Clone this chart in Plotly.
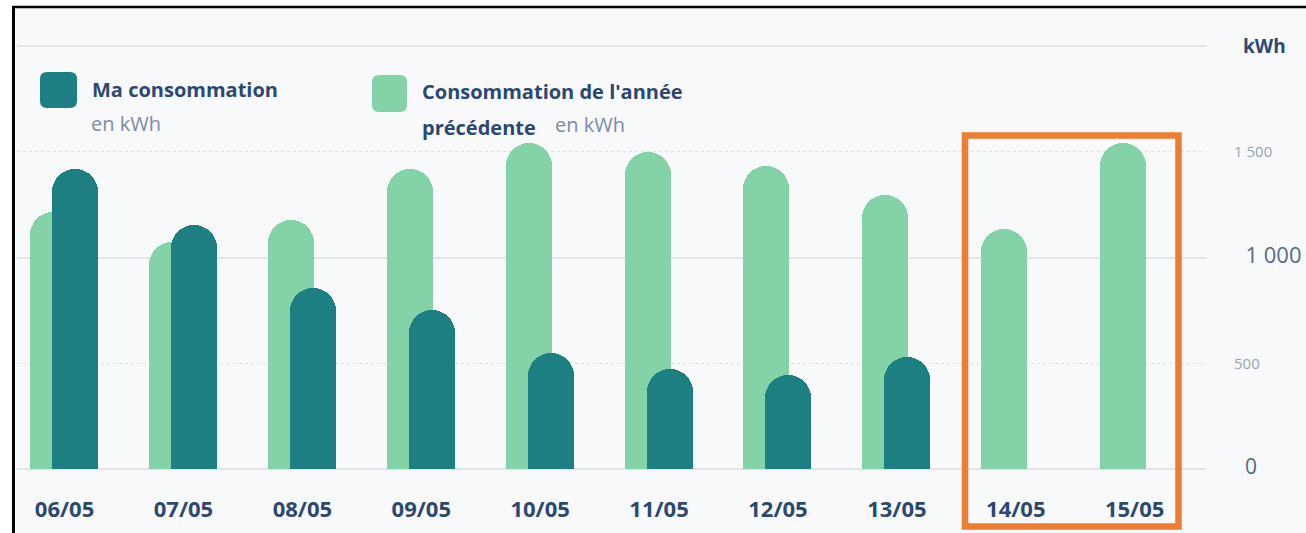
import plotly.graph_objects as go

# ---- data ----
dates = ["06/05", "07/05", "08/05", "09/05", "10/05", "11/05", "12/05", "13/05", "14/05", "15/05"]
ma_conso = [1418, 1155, 856, 752, 548, 473, 444, 530, None, None]
conso_prev = [1215, 1073, 1177, 1418, 1541, 1499, 1433, 1296, 1135, 1541]
y_tick_vals = [0, 500, 1000, 1500]
y_tick_text = ["0", "500", "1 000", "1 500"]
y_tick_sizes = [21, 15, 22, 15]
y_tick_colors = ["#56677d", "#97a3b2", "#5a6a80", "#97a3b2"]
y_tick_pad = [2, 0, 2, 0]
y_range = [-10, 2010]

W, H = 1306, 533
L, R, T, B = 17, 1206, 44, 471
PW, PH = R - L, B - T


def px(x):
    return (x - L) / PW


def py(y):
    return (B - y) / PH


DARK = "#1e7f83"
LIGHT = "#84d3a8"
NAVY = "#2c4870"
GREYTXT = "#7b8ca3"
FONT = "Open Sans"

fig = go.Figure()
fig.add_trace(go.Bar(x=dates, y=conso_prev, marker=dict(color=LIGHT, line=dict(width=0)),
                     offset=-0.29, width=0.387, name="Consommation de l'année précédente",
                     showlegend=False))
fig.add_trace(go.Bar(x=dates, y=ma_conso, marker=dict(color=DARK, line=dict(width=0)),
                     offset=-0.105, width=0.387, name="Ma consommation", showlegend=False))
# empty helper trace so that the label axis is drawn
fig.add_trace(go.Scatter(x=dates, y=[None] * len(dates), yaxis="y2", mode="markers",
                         hoverinfo="skip", showlegend=False))

ticktext = [f"<span style='font-size:{s}px;color:{c}'>{chr(160) * p}{t}</span>"
            for t, s, c, p in zip(y_tick_text, y_tick_sizes, y_tick_colors, y_tick_pad)]

shapes = []
# chart background
shapes.append(dict(type="rect", xref="paper", yref="paper", x0=px(15), x1=px(W + 5),
                   y0=py(8), y1=py(H + 5), fillcolor="#f8f9fb", line=dict(width=0), layer="below"))
# screenshot border
shapes.append(dict(type="line", xref="paper", yref="paper", x0=px(13.5), x1=px(13.5),
                   y0=py(6), y1=py(H + 5), line=dict(color="#000000", width=3), layer="above"))
shapes.append(dict(type="line", xref="paper", yref="paper", x0=px(12), x1=px(W + 5),
                   y0=py(7), y1=py(7), line=dict(color="#000000", width=2.5), layer="above"))
# highlight box
shapes.append(dict(type="rect", xref="paper", yref="paper", x0=px(965), x1=px(1178.5),
                   y0=py(135.5), y1=py(526.5), line=dict(color="#ed7d31", width=6.5),
                   fillcolor="rgba(0,0,0,0)", layer="above"))


def rounded(x0, y0, x1, y1, r, color):
    p = (f"M {px(x0 + r)} {py(y0)} L {px(x1 - r)} {py(y0)} Q {px(x1)} {py(y0)} {px(x1)} {py(y0 + r)} "
         f"L {px(x1)} {py(y1 - r)} Q {px(x1)} {py(y1)} {px(x1 - r)} {py(y1)} "
         f"L {px(x0 + r)} {py(y1)} Q {px(x0)} {py(y1)} {px(x0)} {py(y1 - r)} "
         f"L {px(x0)} {py(y0 + r)} Q {px(x0)} {py(y0)} {px(x0 + r)} {py(y0)} Z")
    return dict(type="path", xref="paper", yref="paper", path=p, fillcolor=color,
                line=dict(width=0), layer="above")


shapes.append(rounded(40, 72, 77, 108, 7, DARK))
shapes.append(rounded(372, 75, 407, 112, 7, LIGHT))

annotations = [
    dict(text="<b>Ma consommation</b>", x=px(90), y=py(89), font=dict(size=20, color=NAVY, family=FONT)),
    dict(text="en kWh", x=px(89), y=py(123), font=dict(size=20, color=GREYTXT, family=FONT)),
    dict(text="<b>Consommation de l'année</b>", x=px(420), y=py(91), font=dict(size=20, color=NAVY, family=FONT)),
    dict(text="<b>précédente</b>", x=px(420), y=py(127), font=dict(size=20, color=NAVY, family=FONT)),
    dict(text="en kWh", x=px(553), y=py(124), font=dict(size=20, color=GREYTXT, family=FONT)),
    dict(text="<b>kWh</b>", x=px(1241), y=py(46), font=dict(size=19, color=NAVY, family=FONT)),
]
for a in annotations:
    a.update(xref="paper", yref="paper", xanchor="left", yanchor="middle", showarrow=False)

fig.update_layout(
    width=W, height=H,
    margin=dict(l=L, r=W - R, t=T, b=H - B, autoexpand=False),
    paper_bgcolor="#ffffff",
    plot_bgcolor="rgba(0,0,0,0)",
    barmode="overlay",
    barcornerradius="50%",
    bargap=0,
    xaxis=dict(type="category", range=[-0.4, 9.6], showgrid=False, zeroline=False, showline=False,
               ticks="", ticklabelstandoff=23,
               tickfont=dict(family=FONT, size=22, color=NAVY, weight="bold"),
               fixedrange=True),
    yaxis=dict(range=y_range, tickmode="linear", tick0=0, dtick=1000, showgrid=True,
               gridcolor="#e1e4e9", gridwidth=1.5, zeroline=False, showticklabels=False, ticks="",
               minor=dict(dtick=500, tick0=0, showgrid=True, gridcolor="#dde1e7", griddash="dot",
                          gridwidth=1.3)),
    yaxis2=dict(overlaying="y", side="right", range=y_range, tickmode="array",
                tickvals=y_tick_vals, ticktext=ticktext, showgrid=False, zeroline=False,
                ticks="", ticklabelstandoff=27, tickfont=dict(family=FONT, size=16, color="#6b7a8e")),
    shapes=shapes,
    annotations=annotations,
    showlegend=False,
)

fig.write_html("out.html")
